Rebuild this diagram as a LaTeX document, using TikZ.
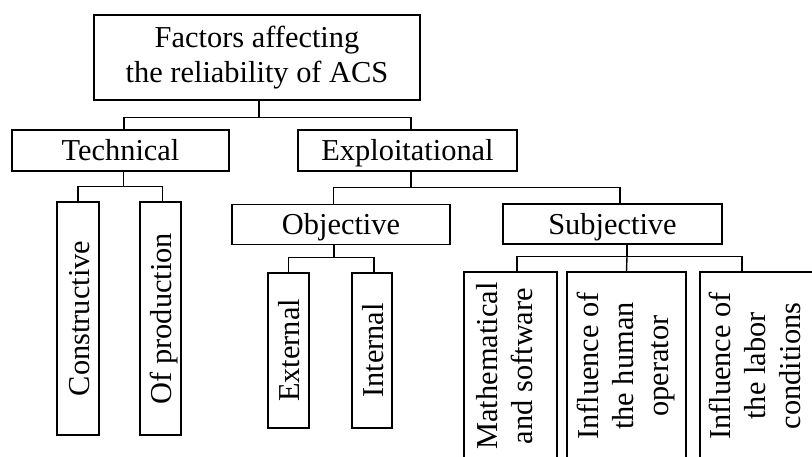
\documentclass[tikz,border=0pt]{standalone}
\usepackage{fontspec}
\setmainfont{Liberation Serif}
\begin{document}
\begin{tikzpicture}[x=1pt,y=-1pt,
  box/.style={draw, line width=1.4pt, inner sep=0pt, align=center,
    font=\fontsize{30.4}{35}\selectfont},
  hbox/.style={box, text height=20pt, text depth=0pt},
  vbox/.style={box, rotate=90, text height=22pt, text depth=0pt},
  vmbox/.style={box, rotate=90},
  link/.style={line width=1.4pt}]
\useasboundingbox (0,0) rectangle (812,456);
\clip (0,0) rectangle (812,456);

% top level
\node[box, minimum width=326pt, minimum height=85pt] (root) at (257,57.5)
  {Factors affecting\\the reliability of ACS};

% second level
\node[hbox, minimum width=217pt, minimum height=41pt] (tech) at (120.5,150.5) {Technical};
\node[hbox, minimum width=219pt, minimum height=41pt] (expl) at (407.5,150.5) {Exploitational};

% technical branch
\node[vbox, minimum width=233pt, minimum height=42pt] (cons) at (78,318.5) {Constructive};
\node[vbox, minimum width=233pt, minimum height=41pt] (prod) at (160.5,318.5) {Of production};

% exploitational branch
\node[hbox, minimum width=218pt, minimum height=40pt] (obj) at (341,224.5) {Objective};
\node[hbox, minimum width=219pt, minimum height=40pt] (subj) at (612.5,224) {Subjective};

\node[vbox, minimum width=155pt, minimum height=41pt] (ext) at (288.5,350.5) {External};
\node[vbox, minimum width=155pt, minimum height=40pt] (int) at (372,350.5) {Internal};

\node[vmbox, text height=45pt, minimum width=188pt, minimum height=93pt] (math) at (510.5,366)
  {Mathematical\\and software};
\node[vmbox, minimum width=188pt, minimum height=119pt] (hum) at (626.5,366)
  {Influence of\\the human\\operator};
\node[vmbox, text height=78pt, minimum width=188pt, minimum height=124pt] (lab) at (762,366)
  {Influence of\\the labor\\conditions};

% connectors
\draw[link] ([xshift=2pt]root.south) -- ++(0,17) coordinate (j1);
\draw[link] ([xshift=3.5pt]tech.north) |- (j1) -| ([xshift=3.5pt]expl.north);

\draw[link] ([xshift=3pt]tech.south) -- ++(0,15) coordinate (j2);
\draw[link] (cons.east) |- (j2) -| ([xshift=2pt]prod.east);

\draw[link] ([xshift=3.5pt]expl.south) -- ++(0,16) coordinate (j3);
\draw[link] ([xshift=-7.5pt]obj.north) |- (j3) -| ([xshift=7.5pt]subj.north);

\draw[link] ([xshift=-7pt]obj.south) -- ++(0,12) coordinate (j4);
\draw[link] (ext.east) |- (j4) -| ([xshift=2pt]int.east);

\draw[link] ([xshift=14.5pt]subj.south) -- ++(0,12) coordinate (j5);
\draw[link] ([xshift=6.5pt]math.east) |- (j5) -| ([xshift=-20pt]lab.east);
\draw[link] (j5) -- (hum.east);
\end{tikzpicture}
\end{document}
